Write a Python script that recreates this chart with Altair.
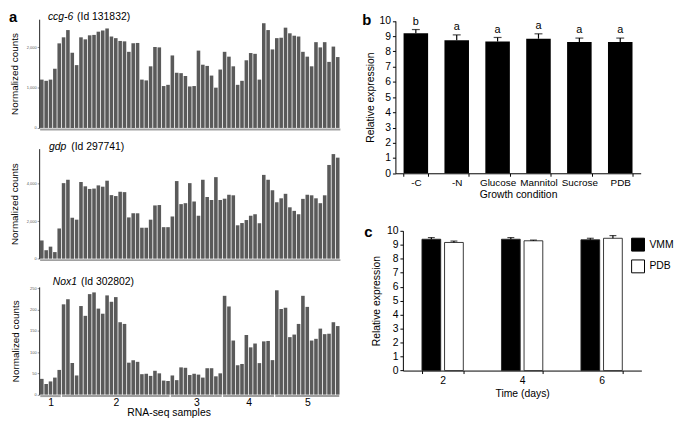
import altair as alt
import pandas as pd

# ---------------- data ----------------
samples = list(range(1, 70))
ccg6_counts = [1200, 1170, 1200, 1470, 2100, 2250, 2430, 1870, 1560, 2250,
               2200, 2300, 2310, 2390, 2420, 2470, 2270, 2230, 2160, 2150,
               1890, 2100, 2110, 1200, 1180, 1530, 2010, 2000, 1040, 1070,
               1800, 1370, 1360, 1290, 1030, 1040, 1920, 1570, 1540, 1300,
               1000, 1450, 1890, 1770, 1530, 1070, 1170, 1680, 1860, 1840,
               1200, 2600, 2430, 1950, 2230, 2240, 2490, 2350, 2290, 2270,
               1890, 1770, 1530, 2130, 2000, 2130, 1640, 2020, 1760]
gdp_counts = [970, 450, 640, 350, 1610, 4030, 4210, 2180, 2080, 4090,
              3860, 3720, 3740, 3910, 3840, 4160, 3390, 3340, 3570, 3550,
              2200, 2420, 2420, 1650, 1650, 2080, 2840, 2860, 1680, 1680,
              2250, 4140, 2910, 2960, 4030, 3050, 2290, 4210, 3290, 3130,
              4350, 3130, 3200, 3410, 3380, 1780, 1900, 2060, 2290, 2370,
              1890, 4470, 4210, 3650, 3010, 3220, 3460, 2740, 2550, 2370,
              3190, 3410, 3380, 3220, 2960, 3380, 5000, 5580, 5390]
nox1_counts = [37, 25, 31, 40, 58, 212, 224, 74, 45, 208,
               185, 236, 240, 202, 190, 233, 218, 229, 170, 166,
               75, 81, 77, 48, 49, 44, 56, 50, 33, 32,
               45, 34, 64, 63, 46, 49, 47, 40, 62, 62,
               43, 50, 232, 207, 127, 69, 72, 140, 111, 120,
               74, 125, 126, 81, 245, 201, 204, 135, 141, 166,
               232, 206, 127, 131, 155, 142, 143, 170, 161]
group_labels = ["1", "2", "3", "4", "5"]
group_first = [1, 6, 31, 43, 55]
group_last = [5, 30, 42, 54, 69]

conditions = ["-C", "-N", "Glucose", "Mannitol", "Sucrose", "PDB"]
cond_mean = [9.19, 8.72, 8.65, 8.83, 8.61, 8.61]
cond_err = [0.24, 0.36, 0.26, 0.32, 0.26, 0.26]
cond_letter = ["b", "a", "a", "a", "a", "a"]

days = ["2", "4", "6"]
media = ["VMM", "PDB"]
vmm_mean = [9.39, 9.39, 9.35]
vmm_err = [0.12, 0.12, 0.11]
pdb_mean = [9.16, 9.28, 9.46]
pdb_err = [0.10, 0.05, 0.19]

# ---------------- layout helpers ----------------
K = 0.985
W, H = 677, 413
FONT = "Liberation Sans"
BAR = "#5a5a5a"


def PX(v):
    return round((v - 2) * K, 2)


def PY(v):
    return round((v - 1) * K, 2)


def label(text, x, y, size, weight="normal", style="normal"):
    return alt.Chart(pd.DataFrame({"t": [text]})).mark_text(
        align="left", baseline="alphabetic", fontSize=size, fontWeight=weight,
        fontStyle=style, font=FONT, color="black"
    ).encode(text="t:N", x=alt.value(PX(x)), y=alt.value(PY(y)))


def rna_panel(counts, ymax, ticks, gene, gene_id, gene_x, id_x, title_base,
              y_top, y_zero, tpad, bottom=False):
    df = pd.DataFrame({"sample": samples, "count": counts})
    xs = alt.Scale(domain=[0.5, 69.5], range=[PX(34.5), PX(343)], nice=False, zero=False)
    ys = alt.Scale(domain=[0, ymax], range=[PY(y_zero), PY(y_top)], nice=False, zero=False)
    yaxis = alt.Axis(orient="left", offset=-PX(34), values=ticks, labelFontSize=4,
                     labelColor="#555", labelPadding=1, tickSize=2, tickColor="#444",
                     tickWidth=0.6, domainColor="#222", domainWidth=1,
                     title="Normalized counts", titleFontSize=10, titleFontWeight="normal",
                     titleColor="black", titlePadding=tpad, grid=False,
                     labelFlush=False, labelOverlap=False)
    if bottom:
        centers = [(a + b) / 2 for a, b in zip(group_first, group_last)]
        expr = ("[" + ",".join("'%s'" % g for g in group_labels) + "][indexof(["
                + ",".join(str(c) for c in centers) + "], datum.value)]")
        xaxis = alt.Axis(orient="bottom", offset=PY(y_zero) - H, values=centers,
                         labelExpr=expr, domain=False, ticks=False, labelFontSize=10.5,
                         labelColor="black", labelPadding=3, labelFlush=False,
                         labelOverlap=False, labelAngle=0, title="RNA-seq samples",
                         titleFontSize=10.5, titleFontWeight="normal", titleColor="black",
                         titlePadding=0, titleX=PX(167), grid=False)
    else:
        xaxis = alt.Axis(orient="bottom", offset=PY(y_zero) + 1 - H, labels=False,
                         ticks=False, domainColor="#a0a0a0", domainWidth=2,
                         title=None, grid=False)
    bars = alt.Chart(df).transform_calculate(
        xa="datum.sample - 0.41", xb="datum.sample + 0.41", zero="0"
    ).mark_rect(color=BAR).encode(
        x=alt.X("xa:Q", scale=xs, axis=xaxis), x2="xb:Q",
        y=alt.Y("count:Q", scale=ys, axis=yaxis), y2="zero:Q")
    layers = [bars]
    if bottom:
        gdf = pd.DataFrame({"g": group_labels, "first": group_first, "last": group_last})
        seg = alt.Chart(gdf).transform_calculate(
            xa="datum.first - 0.5 + 0.15", xb="datum.last + 0.5 - 0.15", zero="0"
        ).mark_rule(color="#a0a0a0", strokeWidth=2, yOffset=1.5).encode(
            x=alt.X("xa:Q", scale=xs, axis=xaxis), x2="xb:Q",
            y=alt.Y("zero:Q", scale=ys, axis=yaxis))
        layers.append(seg)
    layers.append(label(gene, gene_x, title_base, 10.5, style="italic"))
    layers.append(label(gene_id, id_x, title_base, 10.5))
    return alt.layer(*layers)


a1 = rna_panel(ccg6_counts, 2700, [0, 1000, 2000], "ccg-6", "(Id 131832)", 43, 73, 10.5,
               10, 121.7, 7)
a2 = rna_panel(gdp_counts, 5870, [0, 2000, 4000], "gdp", "(Id 297741)", 44, 67, 144,
               143, 256, 7)
a3 = rna_panel(nox1_counts, 253, [0, 50, 100, 150, 200, 250], "Nox1", "(Id 302802)", 48, 77,
               283, 285, 395.7, 9, bottom=True)

# ---------------- panel b ----------------
bdf = pd.DataFrame({"cond": conditions, "mean": cond_mean, "err": cond_err,
                    "letter": cond_letter})
bxs = alt.Scale(domain=conditions, range=[PX(400), PX(652)], paddingInner=0.4, paddingOuter=0.2)
bys = alt.Scale(domain=[0, 10], range=[PY(168.3), PY(11.7)], nice=False, zero=True)
bxa = alt.Axis(orient="bottom", offset=PY(168.3) - H, title="Growth condition", labelAngle=0,
               tickBand="extent", tickSize=3, labelPadding=1, labelFontSize=10,
               titleFontSize=10.5, titlePadding=3, domainColor="black", tickColor="black",
               labelColor="black", titleColor="black", titleFontWeight="normal", grid=False)
bya = alt.Axis(orient="left", offset=-PX(400), values=list(range(11)),
               title="Relative expression", tickSize=3, labelPadding=2, labelFontSize=10.5,
               titleFontSize=10.5, titlePadding=3, domainColor="black", tickColor="black",
               labelColor="black", titleColor="black", titleFontWeight="normal", grid=False,
               labelFlush=False)
bbase = alt.Chart(bdf).transform_calculate(top="datum.mean + datum.err")
bx = alt.X("cond:N", scale=bxs, axis=bxa, sort=None)
pb = alt.layer(
    bbase.mark_bar(color="black").encode(x=bx, y=alt.Y("mean:Q", scale=bys, axis=bya)),
    bbase.mark_rule(color="black", strokeWidth=1.2).encode(
        x=bx, y=alt.Y("mean:Q", scale=bys, axis=bya), y2="top:Q"),
    bbase.mark_tick(color="black", thickness=1.2, size=8).encode(
        x=bx, y=alt.Y("top:Q", scale=bys, axis=bya)),
    bbase.mark_text(baseline="bottom", dy=-3, fontSize=11, font=FONT, color="black").encode(
        x=bx, y=alt.Y("top:Q", scale=bys, axis=bya), text="letter:N"),
)

# ---------------- panel c ----------------
cdf = pd.DataFrame({"day": days * 2, "series": ["VMM"] * 3 + ["PDB"] * 3,
                    "mean": vmm_mean + pdb_mean, "err": vmm_err + pdb_err})
cxs = alt.Scale(domain=days, range=[PX(407.7), PX(652.7)], paddingInner=0.48, paddingOuter=0.24)
cos = alt.Scale(domain=media, paddingInner=0.17, paddingOuter=0)
cys = alt.Scale(domain=[0, 10], range=[PY(371), PY(227.3)], nice=False, zero=True)
cxa = alt.Axis(orient="bottom", offset=PY(371) - H, title="Time (days)", labelAngle=0,
               tickBand="extent", tickSize=3, labelPadding=2, labelFontSize=10.5,
               titleFontSize=10.5, titlePadding=3, domainColor="black", tickColor="black",
               labelColor="black", titleColor="black", titleFontWeight="normal", grid=False)
cya = alt.Axis(orient="left", offset=-PX(407.7), values=list(range(11)),
               title="Relative expression", tickSize=3, labelPadding=2, labelFontSize=10.5,
               titleFontSize=10.5, titlePadding=5, domainColor="black", tickColor="black",
               labelColor="black", titleColor="black", titleFontWeight="normal", grid=False,
               labelFlush=False)
cbase = alt.Chart(cdf).transform_calculate(top="datum.mean + datum.err")
cx = alt.X("day:N", scale=cxs, axis=cxa, sort=None)
cxo = alt.XOffset("series:N", scale=cos, sort=media)
pc = alt.layer(
    cbase.mark_bar(stroke="#222", strokeWidth=0.9).encode(
        x=cx, xOffset=cxo, y=alt.Y("mean:Q", scale=cys, axis=cya),
        color=alt.Color("series:N", scale=alt.Scale(domain=media, range=["black", "white"]),
                        legend=alt.Legend(orient="none", legendX=PX(641.7), legendY=PY(234),
                                          title=None, symbolType="square", symbolSize=170,
                                          symbolStrokeColor="black", symbolStrokeWidth=1,
                                          labelFontSize=10.5, labelColor="black",
                                          labelOffset=4, rowPadding=3, padding=0,
                                          labelFont=FONT))),
    cbase.mark_rule(color="black", strokeWidth=1.2).encode(
        x=cx, xOffset=cxo, y=alt.Y("mean:Q", scale=cys, axis=cya), y2="top:Q"),
    cbase.mark_tick(color="black", thickness=1.2, size=7).encode(
        x=cx, xOffset=cxo, y=alt.Y("top:Q", scale=cys, axis=cya)),
)

# ---------------- panel letters ----------------
letters = alt.layer(
    label("a", 3, 12.5, 15, weight="bold"),
    label("b", 366, 15.5, 15, weight="bold"),
    label("c", 368, 234, 15, weight="bold"),
)

chart = alt.layer(a1, a2, a3, pb, pc, letters).resolve_scale(
    x="independent", y="independent", color="independent"
).properties(
    width=W, height=H, autosize=alt.AutoSizeParams(type="none"), padding=0
).configure(font=FONT).configure_view(stroke=None)

chart.save("out.html", embed_options={"renderer": "svg", "actions": False})
